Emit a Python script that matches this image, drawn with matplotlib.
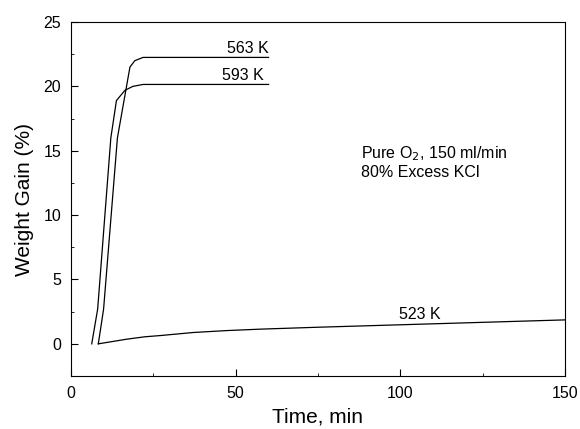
import matplotlib
matplotlib.use("Agg")
import matplotlib.pyplot as plt
from matplotlib.ticker import MultipleLocator

plt.rcParams['font.family'] = ['Liberation Sans', 'DejaVu Sans']

# data
t593 = [6.3, 8.1, 12.1, 13.8, 16.4, 18.8, 21.9, 25, 60]
w593 = [0.0, 2.7, 16.0, 18.9, 19.7, 20.0, 20.15, 20.15, 20.15]

t563 = [8.3, 9.9, 14.1, 17.9, 19.4, 21.9, 25, 60]
w563 = [0.0, 2.7, 16.0, 21.5, 22.0, 22.25, 22.25, 22.25]

t523 = [8.3, 16.9, 22.5, 27, 37.1, 47.3, 57.4, 75, 100, 125, 150]
w523 = [0.0, 0.36, 0.55, 0.64, 0.88, 1.03, 1.14, 1.29, 1.48, 1.67, 1.86]

fig = plt.figure(figsize=(5.8, 4.29), dpi=100)
ax = fig.add_axes([0.1224, 0.1235, 0.8516, 0.8252])

for t, w in [(t593, w593), (t563, w563), (t523, w523)]:
    ax.plot(t, w, color='black', lw=0.9)

ax.text(60, 22.35, '563 K', ha='right', va='bottom', fontsize=11.5)
ax.text(58.5, 20.25, '593 K', ha='right', va='bottom', fontsize=11.5)
ax.text(106, 1.7, '523 K', ha='center', va='bottom', fontsize=11.5)

ax.text(88, 14.8, 'Pure O$_2$, 150 ml/min', ha='left', va='center', fontsize=11.5)
ax.text(88, 13.3, '80% Excess KCl', ha='left', va='center', fontsize=11.5)

ax.set_xlim(0, 150)
ax.set_ylim(-2.5, 25)
ax.xaxis.set_major_locator(MultipleLocator(50))
ax.xaxis.set_minor_locator(MultipleLocator(25))
ax.yaxis.set_major_locator(MultipleLocator(5))
ax.yaxis.set_minor_locator(MultipleLocator(2.5))
ax.tick_params(which='both', direction='in', top=False, right=False, labelsize=11.5)
ax.tick_params(which='major', length=5, pad=7)
ax.tick_params(which='minor', length=2.5)

ax.set_xlabel('Time, min', fontsize=15, labelpad=5)
ax.set_ylabel('Weight Gain (%)', fontsize=15, labelpad=7)

fig.savefig('out.png', dpi=100)
